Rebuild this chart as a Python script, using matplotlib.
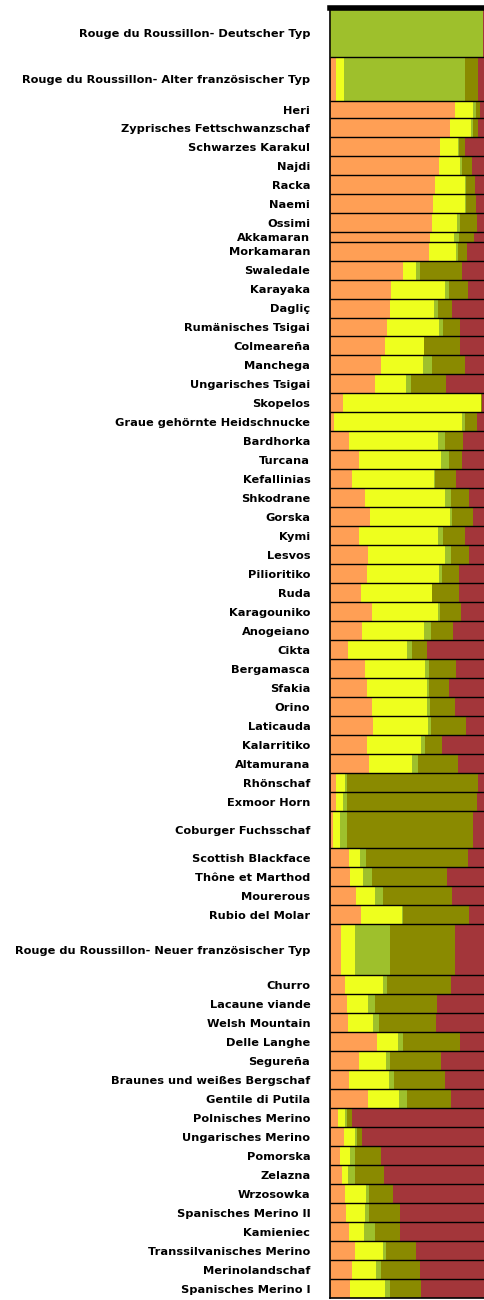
import numpy as np
import matplotlib
matplotlib.use("Agg")
import matplotlib.pyplot as plt

plt.rcParams['font.family'] = ['DejaVu Sans']

# breeds, top to bottom
breeds = [
    "Rouge du Roussillon- Deutscher Typ", "Rouge du Roussillon- Alter französischer Typ",
    "Heri", "Zyprisches Fettschwanzschaf", "Schwarzes Karakul", "Najdi", "Racka", "Naemi",
    "Ossimi", "Akkamaran", "Morkamaran", "Swaledale", "Karayaka", "Dagliç",
    "Rumänisches Tsigai", "Colmeareña", "Manchega", "Ungarisches Tsigai", "Skopelos",
    "Graue gehörnte Heidschnucke", "Bardhorka", "Turcana", "Kefallinias", "Shkodrane",
    "Gorska", "Kymi", "Lesvos", "Pilioritiko", "Ruda", "Karagouniko", "Anogeiano", "Cikta",
    "Bergamasca", "Sfakia", "Orino", "Laticauda", "Kalarritiko", "Altamurana", "Rhönschaf",
    "Exmoor Horn", "Coburger Fuchsschaf", "Scottish Blackface", "Thône et Marthod",
    "Mourerous", "Rubio del Molar", "Rouge du Roussillon- Neuer französischer Typ",
    "Churro", "Lacaune viande", "Welsh Mountain", "Delle Langhe", "Segureña",
    "Braunes und weißes Bergschaf", "Gentile di Putila", "Polnisches Merino",
    "Ungarisches Merino", "Pomorska", "Zelazna", "Wrzosowka", "Spanisches Merino II",
    "Kamieniec", "Transsilvanisches Merino", "Merinolandschaf", "Spanisches Merino I",
]

# relative band heights
heights = [2.6, 2.3, 0.9, 1, 1, 1, 1, 1, 1, 0.5, 1, 1, 1, 1, 1, 1, 1, 1, 1, 1,
           1, 1, 1, 1, 1, 1, 1, 1, 1, 1, 1, 1, 1, 1, 1, 1, 1, 1, 1, 1,
           1.95, 1, 1, 1, 1, 2.7, 1, 1, 1, 1, 1, 1, 1, 1, 1, 1, 1, 1, 1, 1,
           1, 1, 1]

# cluster proportions
orange = [0.0, 0.04, 0.805, 0.777, 0.71, 0.703, 0.675, 0.667, 0.658, 0.648, 0.642, 0.469,
          0.394, 0.385, 0.37, 0.358, 0.333, 0.29, 0.086, 0.03, 0.124, 0.187, 0.144, 0.226,
          0.258, 0.19, 0.247, 0.24, 0.198, 0.269, 0.209, 0.118, 0.226, 0.237, 0.269, 0.28,
          0.24, 0.254, 0.04, 0.043, 0.02, 0.125, 0.133, 0.168, 0.198, 0.071, 0.097, 0.108,
          0.118, 0.305, 0.19, 0.125, 0.243, 0.054, 0.09, 0.065, 0.08, 0.097, 0.103, 0.123,
          0.161, 0.14, 0.133]
yellow = [0.01, 0.05, 0.12, 0.135, 0.115, 0.137, 0.195, 0.203, 0.164, 0.152, 0.168, 0.084,
          0.348, 0.286, 0.335, 0.246, 0.267, 0.2, 0.886, 0.82, 0.576, 0.527, 0.528, 0.516,
          0.516, 0.51, 0.495, 0.465, 0.458, 0.426, 0.401, 0.382, 0.387, 0.387, 0.355, 0.354,
          0.35, 0.273, 0.055, 0.039, 0.045, 0.069, 0.082, 0.122, 0.264, 0.09, 0.247, 0.135,
          0.162, 0.136, 0.171, 0.258, 0.202, 0.043, 0.071, 0.068, 0.038, 0.135, 0.123, 0.096,
          0.183, 0.157, 0.222]
lightgreen = [0.975, 0.78, 0.015, 0.008, 0.005, 0.01, 0.01, 0.005, 0.018, 0.03, 0.015, 0.03,
              0.026, 0.029, 0.022, 0.002, 0.056, 0.03, 0.003, 0.02, 0.042, 0.051, 0.003, 0.036,
              0.016, 0.03, 0.038, 0.02, 0.004, 0.017, 0.04, 0.027, 0.027, 0.013, 0.021, 0.016,
              0.023, 0.043, 0.013, 0.026, 0.043, 0.038, 0.06, 0.05, 0.008, 0.226, 0.026, 0.047,
              0.038, 0.028, 0.029, 0.032, 0.055, 0.015, 0.015, 0.028, 0.043, 0.022, 0.028, 0.071,
              0.017, 0.036, 0.035]
olive = [0.005, 0.087, 0.025, 0.032, 0.04, 0.064, 0.055, 0.065, 0.106, 0.1, 0.061, 0.271,
         0.124, 0.085, 0.112, 0.234, 0.215, 0.23, 0.005, 0.076, 0.118, 0.085, 0.14, 0.121,
         0.13, 0.141, 0.115, 0.105, 0.17, 0.136, 0.146, 0.097, 0.173, 0.133, 0.161, 0.227,
         0.112, 0.258, 0.849, 0.838, 0.812, 0.66, 0.482, 0.445, 0.429, 0.419, 0.408, 0.398,
         0.366, 0.37, 0.324, 0.327, 0.278, 0.034, 0.033, 0.166, 0.189, 0.15, 0.198, 0.162,
         0.194, 0.248, 0.195]
red = [0.01, 0.043, 0.035, 0.048, 0.13, 0.086, 0.065, 0.06, 0.054, 0.07, 0.114, 0.146,
       0.108, 0.215, 0.161, 0.16, 0.129, 0.25, 0.02, 0.054, 0.14, 0.15, 0.185, 0.101,
       0.08, 0.129, 0.105, 0.17, 0.17, 0.152, 0.204, 0.376, 0.187, 0.23, 0.194, 0.123,
       0.275, 0.172, 0.043, 0.054, 0.08, 0.108, 0.243, 0.215, 0.101, 0.194, 0.222, 0.312,
       0.316, 0.161, 0.286, 0.258, 0.222, 0.854, 0.791, 0.673, 0.65, 0.596, 0.548, 0.548,
       0.445, 0.419, 0.415]

series = [orange, yellow, lightgreen, olive, red]
colors = ['#FF9F55', '#EEFF1E', '#9EC02C', '#8A8A00', '#A3363A']

h = np.array(heights)
edges = np.concatenate([[0], np.cumsum(h)])
centers = edges[:-1] + h / 2

fig = plt.figure(figsize=(4.85, 13.0), dpi=100)
ax = fig.add_axes([0.68, 0.0015, 0.32, 0.9923])

left = np.zeros(len(breeds))
for vals, c in zip(series, colors):
    v = np.array(vals)
    ax.barh(centers, v, height=h, left=left, color=c, linewidth=0)
    left = left + v

ax.hlines(edges[1:-1], 0, 1, color='black', linewidth=1.0)

ax.set_xlim(0, 1)
ax.set_ylim(edges[-1], 0)
ax.set_yticks(centers)
ax.set_yticklabels(breeds, fontsize=8.2, fontweight='bold')
ax.tick_params(axis='y', length=0, pad=14)
ax.set_xticks([])

ax.spines['right'].set_visible(False)
ax.spines['top'].set_linewidth(4.0)
ax.spines['left'].set_linewidth(1.2)
ax.spines['bottom'].set_linewidth(1.2)

plt.savefig("out.png", dpi=100)
